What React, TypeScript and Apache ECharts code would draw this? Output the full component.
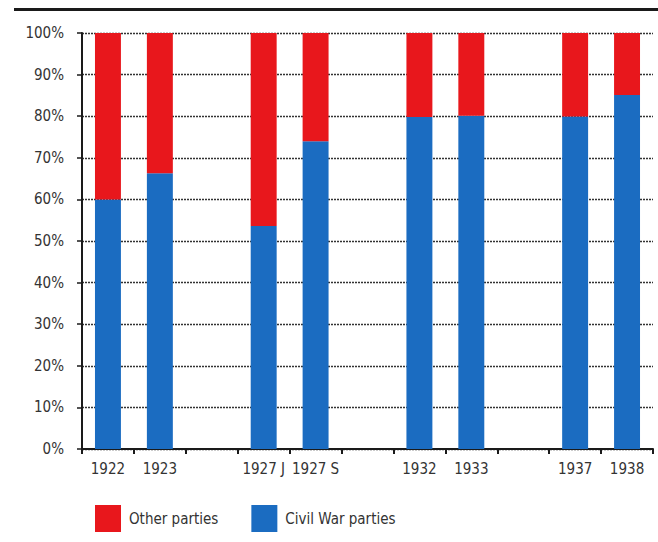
import React, { useEffect, useRef } from "react";
import * as echarts from "echarts";

const categories = ["1922", "1923", "", "1927 J", "1927 S", "", "1932", "1933", "", "1937", "1938"];
const civilWar = [60, 66.3, null, 53.6, 74, null, 79.8, 80.1, null, 79.9, 85.1];
const otherParties = civilWar.map((v) => (v === null ? null : +(100 - v).toFixed(1)));
const yTicks = [0, 10, 20, 30, 40, 50, 60, 70, 80, 90, 100];

const FONT = "'Liberation Sans Narrow', 'DejaVu Sans Condensed', sans-serif";
const RED = "#e8171c";
const BLUE = "#1b6cc1";

export default function App() {
  const ref = useRef<HTMLDivElement>(null);
  useEffect(() => {
    if (!ref.current) return;
    const chart = echarts.init(ref.current, null, { renderer: "svg" });
    chart.setOption({
      animation: false,
      backgroundColor: "#ffffff",
      textStyle: { fontFamily: FONT },
      grid: { left: 82, right: 5, top: 33, bottom: 93 },
      graphic: [
        { type: "rect", shape: { x: 14, y: 8, width: 644, height: 3 }, style: { fill: "#1a1a1a" } },
      ],
      legend: {
        left: 95,
        top: 505,
        padding: 0,
        itemWidth: 26,
        itemHeight: 27,
        itemGap: 33,
        icon: "rect",
        data: ["Other parties", "Civil War parties"],
        textStyle: { fontFamily: FONT, fontSize: 15, color: "#333", padding: [0, 0, 0, 3] },
      },
      xAxis: {
        type: "category",
        data: categories,
        axisLine: { lineStyle: { color: "#1a1a1a", width: 2 } },
        axisTick: { show: true, length: 5, interval: 0, lineStyle: { color: "#1a1a1a", width: 2 } },
        axisLabel: { fontFamily: FONT, fontSize: 15, color: "#333", margin: 12, interval: 0 },
      },
      yAxis: {
        type: "value",
        min: 0,
        max: 100,
        interval: 10,
        axisLine: { show: true, lineStyle: { color: "#1a1a1a", width: 2 } },
        axisTick: { show: true, length: 5, lineStyle: { color: "#1a1a1a", width: 1.5 } },
        axisLabel: {
          fontFamily: FONT,
          fontSize: 15,
          color: "#333",
          margin: 18,
          formatter: (v: number) => (yTicks.includes(v) ? v + "%" : ""),
        },
        splitLine: { show: true, lineStyle: { color: "#333", type: [2, 1], width: 1.4 } },
      },
      series: [
        {
          name: "Civil War parties",
          type: "bar",
          stack: "total",
          data: civilWar,
          barWidth: "50%",
          itemStyle: { color: BLUE },
        },
        {
          name: "Other parties",
          type: "bar",
          stack: "total",
          data: otherParties,
          barWidth: "50%",
          itemStyle: { color: RED },
        },
      ],
    });
    return () => chart.dispose();
  }, []);
  return <div ref={ref} style={{ position: "absolute", left: 0, top: 0, width: 658, height: 542 }} />;
}
